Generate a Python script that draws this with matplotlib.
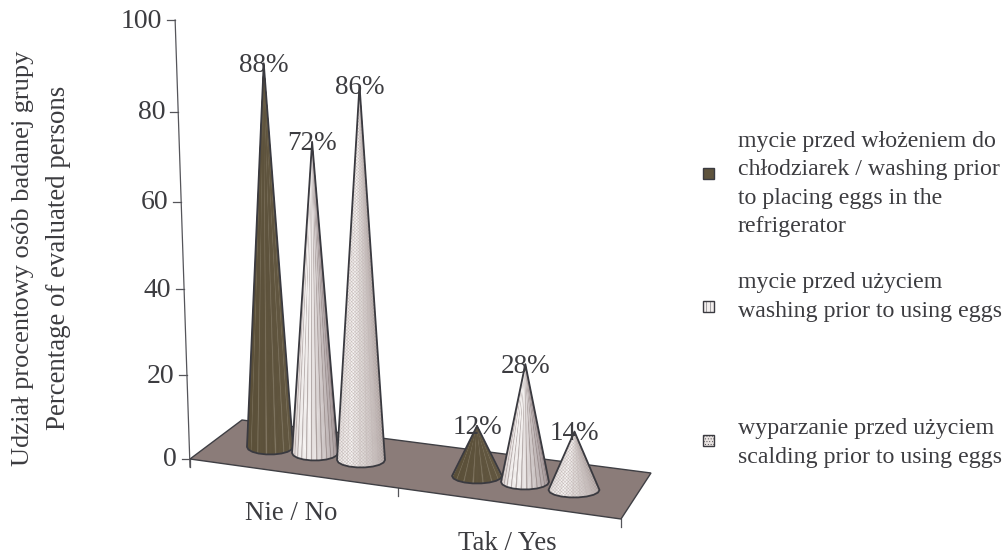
import numpy as np
import matplotlib
matplotlib.use("Agg")
import matplotlib.pyplot as plt
from matplotlib.patches import Polygon, Rectangle

# Survey shares per answer and handling practice
categories = ["Nie / No", "Tak / Yes"]
washing_before_fridge = [88, 12]
washing_before_use = [72, 28]
scalding_before_use = [86, 14]
axis_ticks = [0, 20, 40, 60, 80, 100]

legend_labels = [
    "mycie przed włożeniem do\nchłodziarek / washing prior\nto placing eggs in the\nrefrigerator",
    "mycie przed użyciem\nwashing prior to using eggs",
    "wyparzanie przed użyciem\nscalding prior to using eggs",
]

INK = "#3c3c40"
plt.rcParams["font.family"] = ["Liberation Serif", "DejaVu Serif"]
plt.rcParams["hatch.linewidth"] = 0.3

fig = plt.figure(figsize=(10.04, 5.55), dpi=100)
ax = fig.add_axes([0, 0, 1, 1])
ax.set_xlim(0, 1004)
ax.set_ylim(555, 0)
ax.axis("off")

# Floor corners of the 3-D scene, in canvas units
FL = np.array([190.0, 459.0])
BL = np.array([242.0, 420.0])
FR = np.array([621.0, 519.0])
BR = np.array([651.0, 473.0])

# Base centre and half-width of every cone: one row per category, one column per series
BASES = [[(270, 447, 23), (315, 453, 23), (361, 460, 24)],
         [(477, 476, 25), (525, 482, 24), (574, 490, 25.5)]]
BASE_HALF_HEIGHT = 7.5


def rise(value):
    """Canvas height of a value above the floor (mild perspective growth)."""
    return 4.14 * value + 0.0025 * value ** 2


def lean(x, value):
    """Horizontal drift of a vertical line as it recedes upward."""
    offset = x - 450.0
    return offset * abs(offset) * 2.2e-6 * value


def mix(a, b, t):
    a = np.array(matplotlib.colors.to_rgb(a))
    b = np.array(matplotlib.colors.to_rgb(b))
    return tuple(a + (b - a) * t)


def facet_color(style, i, n):
    t = i / (n - 1)
    if style == 0:
        base = mix("#5a4f38", "#645943", t)
        if i % 7 == 3:
            return mix(base, "#a89f8d", 0.45)
        return base
    if style == 1:
        edge = mix("#c9bcba", "#f8f5f4", min(t * 4, 1)) if t < 0.45 else mix("#f4f0ef", "#96888a", (t - 0.45) / 0.55)
        return mix(edge, "#6f5f5e", 0.5) if i % 4 == 0 else edge
    edge = mix("#e4dedc", "#f8f5f4", min(t * 3, 1)) if t < 0.4 else mix("#f2eeed", "#a09391", (t - 0.4) / 0.6)
    return mix(edge, "#a79a98", 0.22) if i % 5 == 1 else edge


def draw_cone(cx, cy, half_w, value, style, z):
    apex = np.array([cx + lean(cx, value), cy - rise(value)])
    # Lower half of the base outline, sampled in coarse steps like a faceted solid
    angles = np.linspace(np.pi, 0, 10)
    rim = np.column_stack([cx + half_w * np.cos(angles), cy + BASE_HALF_HEIGHT * np.sin(angles)])
    outline = np.vstack([apex, rim])
    ax.add_patch(Polygon(outline, closed=True, facecolor=facet_color(style, 0, 9),
                         edgecolor="none", zorder=z))
    n = len(rim) - 1
    fine = 6
    for i in range(n):
        for j in range(fine):
            a = rim[i] + (rim[i + 1] - rim[i]) * j / fine
            b = rim[i] + (rim[i + 1] - rim[i]) * (j + 1) / fine
            color = facet_color(style, i * fine + j, n * fine)
            ax.add_patch(Polygon([apex, a, b], closed=True, facecolor=color,
                                 edgecolor=color, linewidth=0.3, zorder=z))
    if style == 2:
        ax.add_patch(Polygon(outline, closed=True, facecolor="none", edgecolor="#c4bab8",
                             linewidth=0, hatch="xxxxxxxxxx", zorder=z + 0.2))
    ax.add_patch(Polygon(outline, closed=True, fill=False, edgecolor="#3a3a40",
                         linewidth=1.3, joinstyle="round", zorder=z + 0.5))
    ax.text(apex[0], apex[1] + 2, f"{value}%", fontsize=19.5, color=INK,
            ha="center", va="center", zorder=20)


# Value axis with perspective ticks
ax.plot([FL[0] + lean(FL[0], 100), FL[0]], [FL[1] - rise(100), FL[1] + 8],
        color="#55555a", lw=0.9, zorder=1)
for t in axis_ticks:
    x = FL[0] + lean(FL[0], t)
    y = FL[1] - rise(t)
    ax.plot([x - 8, x], [y, y], color="#55555a", lw=0.9, zorder=1)
    ax.text(x - 13, y + 1, str(t), fontsize=20, color=INK, ha="right", va="center")

# Floor and the category ticks along its front edge
ax.add_patch(Polygon([FL, BL, BR, FR], closed=True, facecolor="#8b7c79",
                     edgecolor="#3f3f44", linewidth=1.0, zorder=2))
for u in (0.0, 0.483, 1.0):
    p = FL + (FR - FL) * u
    ax.plot([p[0], p[0]], [p[1], p[1] + 8], color="#55555a", lw=0.9, zorder=1)

ax.text(291, 513, categories[0], fontsize=19.4, color=INK, ha="center", va="center")
ax.text(507, 544, categories[1], fontsize=19.4, color=INK, ha="center", va="center")

# Cones, left to right so that later ones overlap earlier ones
series = [washing_before_fridge, washing_before_use, scalding_before_use]
z = 5
for c, row in enumerate(BASES):
    for s, (cx, cy, half_w) in enumerate(row):
        draw_cone(cx, cy, half_w, series[s][c], s, z)
        z += 1

# Legend entries
swatches = [("#5e533d", None), ("#f2eeed", "||||"), ("#e8e2e0", "......")]
marker_y = [173, 306, 440]
text_y = [184, 297, 443]
for (fc, hatch), my, ty, label in zip(swatches, marker_y, text_y, legend_labels):
    ax.add_patch(Rectangle((703.5, my - 5.5), 11, 11, facecolor=fc, edgecolor="#3a3a40",
                           linewidth=1.0, hatch=hatch))
    ax.text(738, ty, label, fontsize=17.2, color=INK, ha="left", va="center", linespacing=1.44)

# Two-language vertical axis title
ax.text(23, 258, "Udział procentowy osób badanej grupy", rotation=90, fontsize=19,
        color=INK, ha="center", va="center")
ax.text(59, 258, "Percentage of evaluated persons", rotation=90, fontsize=19.4,
        color=INK, ha="center", va="center")

fig.savefig("out.png", dpi=100)
